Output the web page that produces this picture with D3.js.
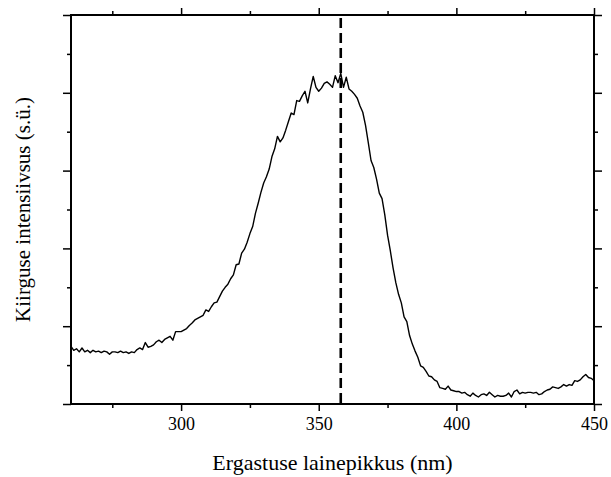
<!DOCTYPE html>
<html>
<head>
<meta charset="utf-8">
<script src="https://cdn.jsdelivr.net/npm/d3@7"></script>
<style>
  @font-face { font-family: "ChartSerif"; src: local("Liberation Serif"), local("LiberationSerif"), local("LiberationSerif-Regular"); }
  html, body { margin: 0; padding: 0; background: #fff; }
  #chart { display: block; font-family: "Liberation Serif", "ChartSerif", serif !important; }
  #chart text, #chart g text, #chart .tick text { font-family: "Liberation Serif", "ChartSerif", serif !important; fill: #000; }
</style>
</head>
<body>
<svg id="chart" width="611" height="477"></svg>
<script>
// ---- data ----
const wavelengthStart = 260;   // nm, 1 nm step
const intensity = [
  0.74,0.69,0.71,0.67,0.72,0.67,0.69,0.66,0.69,0.67,
  0.68,0.66,0.68,0.67,0.64,0.67,0.67,0.66,0.68,0.66,
  0.67,0.65,0.67,0.66,0.70,0.72,0.70,0.79,0.73,0.74,
  0.76,0.80,0.82,0.79,0.83,0.85,0.87,0.82,0.93,0.93,
  0.93,0.95,0.97,1.01,1.04,1.08,1.10,1.12,1.14,1.21,
  1.19,1.25,1.30,1.31,1.38,1.45,1.50,1.54,1.61,1.66,
  1.79,1.80,1.94,1.99,2.08,2.19,2.28,2.45,2.58,2.72,
  2.84,2.92,3.02,3.18,3.28,3.44,3.37,3.42,3.52,3.63,
  3.74,3.72,3.90,3.89,3.96,4.02,3.87,4.05,4.21,4.07,
  4.02,4.06,4.12,4.14,4.11,4.07,4.22,4.13,4.25,4.07,
  4.20,4.05,4.02,3.98,3.93,3.83,3.75,3.58,3.36,3.13,
  3.04,2.89,2.71,2.64,2.43,2.17,1.97,1.75,1.56,1.41,
  1.30,1.12,1.06,0.88,0.77,0.68,0.60,0.49,0.47,0.42,
  0.36,0.35,0.31,0.29,0.21,0.20,0.19,0.23,0.18,0.17,
  0.16,0.16,0.14,0.15,0.12,0.10,0.14,0.11,0.09,0.12,
  0.13,0.11,0.15,0.12,0.09,0.11,0.10,0.10,0.11,0.14,
  0.09,0.16,0.18,0.13,0.15,0.14,0.15,0.15,0.14,0.15,
  0.12,0.13,0.16,0.18,0.19,0.22,0.21,0.20,0.22,0.25,
  0.23,0.25,0.24,0.30,0.29,0.31,0.35,0.38,0.34,0.33,
  0.30
];
const markerWavelength = 358;
const xDomain = [260, 450];
const yDomain = [0, 5];
const xMajorTicks = [300, 350, 400, 450];
const xMinorTicks = [275, 325, 375, 425];
const yMajorTicks = [0, 1, 2, 3, 4, 5];
const yMinorTicks = [0.5, 1.5, 2.5, 3.5, 4.5];
const xTitle = "Ergastuse lainepikkus (nm)";
const yTitle = "Kiirguse intensiivsus (s.ü.)";

const points = intensity.map((v, i) => ({ x: wavelengthStart + i, y: v }));

// ---- layout ----
const svg = d3.select("#chart");
const L = 71, R = 594, T = 15, B = 404;
const x = d3.scaleLinear().domain(xDomain).range([L, R]);
const y = d3.scaleLinear().domain(yDomain).range([B, T]);

function addAxis(axisGen, transform, ticks, size) {
  const g = svg.append("g").attr("transform", transform)
    .call(axisGen.tickValues(ticks).tickSize(size).tickFormat(""));
  g.attr("font-family", null);
  g.select(".domain").remove();
  g.selectAll(".tick line").attr("stroke", "#000").attr("stroke-width", 1.5);
  return g;
}

// bottom
addAxis(d3.axisBottom(x), `translate(0,${B})`, xMinorTicks, 4);
const bx = svg.append("g").attr("transform", `translate(0,${B})`)
  .call(d3.axisBottom(x).tickValues(xMajorTicks).tickSize(7).tickPadding(6).tickFormat(d3.format("d")));
bx.attr("font-family", null).attr("font-size", 18);
bx.select(".domain").remove();
bx.selectAll(".tick line").attr("stroke", "#000").attr("stroke-width", 1.5);
bx.selectAll(".tick text").attr("font-size", 18).attr("fill", "#000");
// top
addAxis(d3.axisTop(x), `translate(0,${T})`, xMinorTicks, 4);
addAxis(d3.axisTop(x), `translate(0,${T})`, xMajorTicks, 7);
// left
addAxis(d3.axisLeft(y), `translate(${L},0)`, yMinorTicks, 4);
addAxis(d3.axisLeft(y), `translate(${L},0)`, yMajorTicks, 8);
// right
addAxis(d3.axisRight(y), `translate(${R},0)`, yMinorTicks, 4);
addAxis(d3.axisRight(y), `translate(${R},0)`, yMajorTicks, 8);

// frame
svg.append("rect")
  .attr("x", L).attr("y", T).attr("width", R - L).attr("height", B - T)
  .attr("fill", "none").attr("stroke", "#000").attr("stroke-width", 2);

// dashed marker
svg.append("line")
  .attr("x1", x(markerWavelength)).attr("x2", x(markerWavelength))
  .attr("y1", T + 3).attr("y2", B)
  .attr("stroke", "#000").attr("stroke-width", 2.6)
  .attr("stroke-dasharray", "10,5");

// curve
svg.append("path")
  .datum(points)
  .attr("fill", "none").attr("stroke", "#000").attr("stroke-width", 1.4)
  .attr("stroke-linejoin", "round")
  .attr("d", d3.line().x(d => x(d.x)).y(d => y(d.y)));

// titles
svg.append("text")
  .attr("x", (L + R) / 2).attr("y", 470)
  .attr("text-anchor", "middle").attr("font-size", 22)
  .text(xTitle);
svg.append("text")
  .attr("transform", `translate(30,${(T + B) / 2}) rotate(-90)`)
  .attr("text-anchor", "middle").attr("font-size", 21)
  .text(yTitle);
</script>
</body>
</html>
